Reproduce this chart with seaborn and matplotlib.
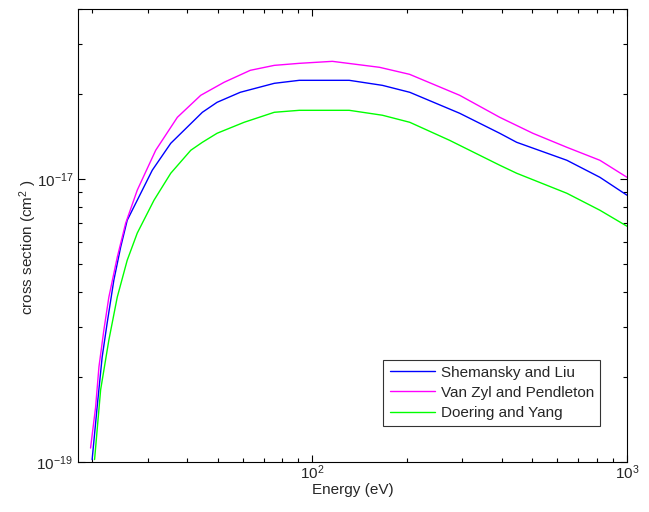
import matplotlib
matplotlib.use('Agg')
import matplotlib.pyplot as plt
from matplotlib.ticker import LogLocator, NullFormatter
import seaborn as sns
import pandas as pd

# values (energy in eV, cross section in 1e-17 cm^2)
shemansky_E = [19.96, 20.70, 21.48, 22.28, 23.40, 24.59, 25.80, 27.77, 30.99, 35.48, 44.72,
               49.8, 59.0, 75.7, 90.9, 131, 167, 204, 294, 394, 446, 644, 820, 1000]
shemansky_s = [0.102, 0.156, 0.235, 0.310, 0.440, 0.575, 0.716, 0.843, 1.076, 1.340, 1.725,
               1.871, 2.030, 2.184, 2.238, 2.238, 2.148, 2.030, 1.711, 1.454, 1.351, 1.167,
               1.016, 0.878]

vanzyl_E = [19.73, 20.47, 20.98, 21.75, 22.56, 23.99, 25.51, 27.77, 31.78, 37.24, 44.19,
            52.4, 63.5, 75.7, 90.9, 115.8, 163.5, 203.7, 293.9, 394, 502, 644, 820, 1000]
vanzyl_s = [0.112, 0.156, 0.217, 0.293, 0.383, 0.530, 0.699, 0.915, 1.266, 1.656, 1.981,
            2.202, 2.428, 2.528, 2.570, 2.612, 2.488, 2.350, 1.981, 1.656, 1.454, 1.297,
            1.167, 1.016]

doering_E = [20.32, 21.24, 22.56, 23.99, 25.80, 27.77, 31.39, 35.48, 41.08, 44.72, 49.8,
             60.7, 75.7, 90.9, 131, 167, 204, 273, 394, 446, 644, 820, 1000]
doering_s = [0.102, 0.180, 0.270, 0.383, 0.517, 0.645, 0.843, 1.050, 1.266, 1.351, 1.454,
             1.590, 1.725, 1.753, 1.753, 1.684, 1.590, 1.373, 1.121, 1.050, 0.892, 0.777,
             0.682]

names = ['Shemansky and Liu', 'Van Zyl and Pendleton', 'Doering and Yang']
colors = ['#0000ff', '#ff00ff', '#00ff00']

frames = []
for name, E, s in zip(names, [shemansky_E, vanzyl_E, doering_E],
                      [shemansky_s, vanzyl_s, doering_s]):
    frames.append(pd.DataFrame({'energy': E, 'sigma': [v * 1e-17 for v in s], 'source': name}))
df = pd.concat(frames, ignore_index=True)

sns.set_style('white')
plt.rcParams['font.family'] = ['Liberation Sans', 'DejaVu Sans']
plt.rcParams['mathtext.fontset'] = 'custom'
plt.rcParams['mathtext.rm'] = 'Liberation Sans'
plt.rcParams['mathtext.it'] = 'Liberation Sans:italic'

fig = plt.figure(figsize=(6.49, 5.12), dpi=100)
ax = fig.add_axes([0.1202, 0.0977, 0.8459, 0.8847])

sns.lineplot(data=df, x='energy', y='sigma', hue='source', hue_order=names,
             palette=colors, estimator=None, sort=False, linewidth=1.0, ax=ax)

ax.set_xscale('log')
ax.set_yscale('log')
ax.set_xlim(18, 1000)
ax.set_ylim(1e-18, 4e-17)

ax.set_xticks([100, 1000])
ax.set_xticklabels(['$10^{2}$', '$10^{3}$'])
ax.xaxis.set_minor_locator(LogLocator(base=10, subs=range(2, 10)))
ax.xaxis.set_minor_formatter(NullFormatter())
ax.set_yticks([1e-18, 1e-17])
ax.set_yticklabels(['$10^{-19}$', '$10^{-17}$'])
ax.yaxis.set_minor_locator(LogLocator(base=10, subs=range(2, 10)))
ax.yaxis.set_minor_formatter(NullFormatter())

ax.tick_params(which='both', direction='in', top=True, right=True, left=True,
               bottom=True, color='black', labelsize=11, width=0.8)
ax.tick_params(which='major', length=5)
ax.tick_params(which='minor', length=3)
ax.tick_params(axis='x', which='major', pad=1)
ax.tick_params(axis='y', which='major', pad=3.5)
for sp in ax.spines.values():
    sp.set_color('black')
    sp.set_linewidth(0.8)

ax.set_xlabel('Energy (eV)', fontsize=11)
ax.set_ylabel('cross section (cm$^2$ )', fontsize=11)
ax.xaxis.set_label_coords(0.5, -0.046)
ax.yaxis.set_label_coords(-0.071, 0.475)

leg = ax.legend(loc='lower right', bbox_to_anchor=(0.951, 0.0795), borderaxespad=0,
                fontsize=11, frameon=True, fancybox=False, handlelength=3.0,
                borderpad=0.4, labelspacing=0.4, handletextpad=0.35)
leg.get_frame().set_edgecolor('black')
leg.get_frame().set_linewidth(0.8)
leg.set_title(None)

fig.savefig('out.png', dpi=100)
